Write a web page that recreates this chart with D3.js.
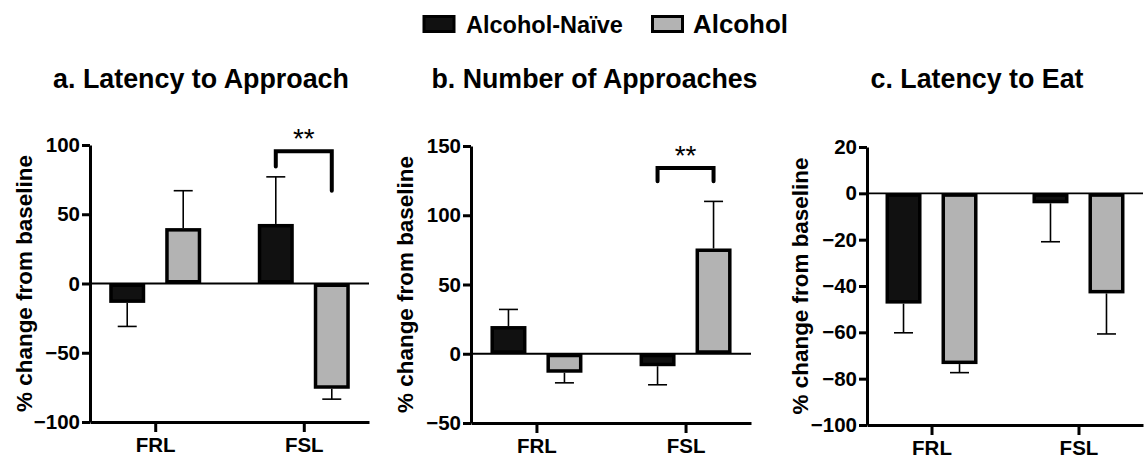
<!DOCTYPE html>
<html>
<head>
<meta charset="utf-8">
<script src="https://cdn.jsdelivr.net/npm/d3@7"></script>
<style>
  html, body { margin: 0; padding: 0; background: #fff; }
  svg { display: block; }
  text { font-family: Arial, "Liberation Sans", Helvetica, sans-serif; fill: #000; }
</style>
</head>
<body>
<svg id="chart" width="1147" height="458"></svg>
<script>
// ---- data ----
const categories = ["FRL", "FSL"];
const groups = ["Alcohol-Naïve", "Alcohol"];
const panelTitles = ["a. Latency to Approach", "b. Number of Approaches", "c. Latency to Eat"];
const yLabel = "% change from baseline";

// mean % change per category, one array per group and panel
const naiveMeans   = [[-14, 43], [20, -9], [-47.6, -4.3]];
const alcoholMeans = [[40, -76], [-13.7, 76], [-73.7, -43.2]];
// SEM per category
const naiveErr   = [[17, 34], [12, 13.4], [12.6, 16.6]];
const alcoholErr = [[27, 7.5], [7.3, 34], [3.7, 17.5]];

const yDomains = [[-100, 100], [-50, 150], [-100, 20]];
const yTicks = [[-100, -50, 0, 50, 100], [-50, 0, 50, 100, 150], [-100, -80, -60, -40, -20, 0, 20]];

// significance brackets: [panel, category, top, leftEnd, rightEnd, label]
const brackets = [
  [0, "FSL", 95.5, 84.5, 67, "**"],
  [1, "FSL", 134.2, 124.5, 124.5, "**"]
];

// ---- layout ----
const panels = [
  { left: 90, right: 369, top: 145, bottom: 422, titleX: 201, titleW: 296, labelX: 32 },
  { left: 471, right: 751, top: 146, bottom: 423, titleX: 594.5, titleW: 326, labelX: 413 },
  { left: 867, right: 1143, top: 147, bottom: 425, titleX: 977, titleW: 213, labelX: 808 }
];
const colors = { "Alcohol-Naïve": "#111111", "Alcohol": "#b3b3b3" };

const svg = d3.select("#chart");

// scale a text element's font-size so its rendered width equals target
function fitWidth(sel, target) {
  const node = sel.node();
  const fs = parseFloat(sel.attr("font-size"));
  const len = node.getComputedTextLength();
  if (len > 0) sel.attr("font-size", fs * target / len);
  return sel;
}

// ---- legend ----
const legend = svg.append("g");
[[422.5, 466, 157], [651, 693, 95]].forEach(([rx, tx, tw], i) => {
  const g = groups[i];
  legend.append("rect")
    .attr("x", rx + 1.5).attr("y", 16.5).attr("width", 30).attr("height", 15)
    .attr("fill", colors[g]).attr("stroke", "#000").attr("stroke-width", 3);
  const t = legend.append("text")
    .attr("x", tx).attr("y", 33)
    .attr("font-size", 26).attr("font-weight", "bold")
    .text(g);
  fitWidth(t, tw);
});

// ---- panels ----
panels.forEach((p, pi) => {
  const g = svg.append("g");

  const y = d3.scaleLinear().domain(yDomains[pi]).range([p.bottom, p.top]);
  const x = d3.scalePoint().domain(categories).range([p.left, p.right]).padding(0.439);
  const xSub = d3.scaleBand().domain(groups).range([-46, 46]).paddingInner(0.357).paddingOuter(0);

  // title
  const title = g.append("text")
    .attr("x", p.titleX).attr("y", 88)
    .attr("text-anchor", "middle")
    .attr("font-size", 26).attr("font-weight", "bold")
    .text(panelTitles[pi]);
  fitWidth(title, p.titleW);

  // y label
  const yl = g.append("text")
    .attr("transform", `translate(${p.labelX},${(p.top + p.bottom) / 2 + 0}) rotate(-90)`)
    .attr("text-anchor", "middle")
    .attr("font-size", 22).attr("font-weight", "bold")
    .text(yLabel);
  fitWidth(yl, 257);

  // rows of bars
  const rows = [];
  categories.forEach((c, ci) => {
    rows.push({ cat: c, grp: groups[0], v: naiveMeans[pi][ci], e: naiveErr[pi][ci] });
    rows.push({ cat: c, grp: groups[1], v: alcoholMeans[pi][ci], e: alcoholErr[pi][ci] });
  });

  const bw = xSub.bandwidth();
  const sw = 3.5;

  // error bars (outward side only)
  const eb = g.append("g").attr("stroke", "#000").attr("stroke-width", 1.6).attr("fill", "none");
  rows.forEach(d => {
    const cx = x(d.cat) + xSub(d.grp) + bw / 2;
    const end = d.v >= 0 ? d.v + d.e : d.v - d.e;
    eb.append("line").attr("x1", cx).attr("x2", cx).attr("y1", y(d.v)).attr("y2", y(end));
    eb.append("line").attr("x1", cx - 9.5).attr("x2", cx + 9.5).attr("y1", y(end)).attr("y2", y(end));
  });

  // bars
  g.append("g").selectAll("rect").data(rows).join("rect")
    .attr("x", d => x(d.cat) + xSub(d.grp) + sw / 2)
    .attr("width", bw - sw)
    .attr("y", d => Math.min(y(d.v), y(0)) + sw / 2)
    .attr("height", d => Math.max(0, Math.abs(y(d.v) - y(0)) - sw))
    .attr("fill", d => colors[d.grp])
    .attr("stroke", "#000")
    .attr("stroke-width", sw);

  // zero line
  g.append("line")
    .attr("x1", p.left).attr("x2", p.right)
    .attr("y1", y(0)).attr("y2", y(0))
    .attr("stroke", "#000").attr("stroke-width", 1.8);

  // axes
  const yAxis = g.append("g")
    .attr("transform", `translate(${p.left},0)`)
    .call(d3.axisLeft(y).tickValues(yTicks[pi]).tickSize(8).tickSizeOuter(0).tickPadding(2));
  const xAxis = g.append("g")
    .attr("transform", `translate(0,${p.bottom})`)
    .call(d3.axisBottom(x).tickSize(10).tickSizeOuter(0).tickPadding(5));

  [yAxis, xAxis].forEach(a => {
    a.select(".domain").attr("stroke", "#000").attr("stroke-width", 3);
    a.selectAll(".tick line").attr("stroke", "#000").attr("stroke-width", 3);
    a.selectAll(".tick text")
      .attr("fill", "#000")
      .attr("font-weight", "bold");
  });
  yAxis.selectAll(".tick text").attr("font-size", 20.5);
  xAxis.selectAll(".tick text").attr("font-size", 20.5);
});

// significance brackets
brackets.forEach(([pi, cat, top, l, r, label]) => {
  const p = panels[pi];
  const y = d3.scaleLinear().domain(yDomains[pi]).range([p.bottom, p.top]);
  const x = d3.scalePoint().domain(categories).range([p.left, p.right]).padding(0.439);
  const xSub = d3.scaleBand().domain(groups).range([-46, 46]).paddingInner(0.357).paddingOuter(0);
  const bw = xSub.bandwidth();
  const x1 = x(cat) + xSub(groups[0]) + bw / 2;
  const x2 = x(cat) + xSub(groups[1]) + bw / 2;
  svg.append("path")
    .attr("d", `M${x1},${y(l)}V${y(top)}H${x2}V${y(r)}`)
    .attr("fill", "none").attr("stroke", "#000")
    .attr("stroke-width", 4).attr("stroke-linecap", "round").attr("stroke-linejoin", "miter");
  svg.append("text")
    .attr("x", (x1 + x2) / 2).attr("y", y(top) - 3)
    .attr("text-anchor", "middle")
    .attr("font-size", 28)
    .text(label);
});
</script>
</body>
</html>
